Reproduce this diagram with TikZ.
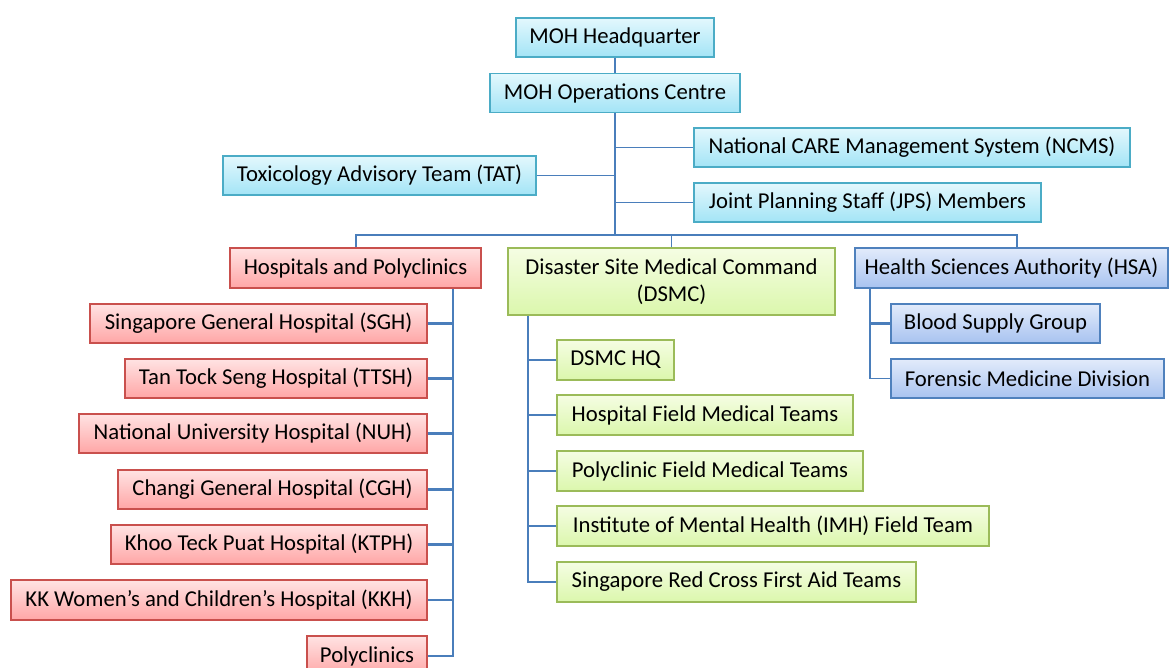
\documentclass[tikz,border=0pt]{standalone}
\usepackage{fontspec}
\setmainfont{Carlito}
\definecolor{lnc}{HTML}{4A7EBB}
\definecolor{cyB}{HTML}{4BACC6}\definecolor{cyT}{HTML}{E3F8FD}\definecolor{cyD}{HTML}{A3E4F6}
\definecolor{rdB}{HTML}{C9504D}\definecolor{rdT}{HTML}{FFE3E3}\definecolor{rdD}{HTML}{FFA6A6}
\definecolor{grB}{HTML}{9BBB59}\definecolor{grT}{HTML}{F5FDE3}\definecolor{grD}{HTML}{DBF7AC}
\definecolor{blB}{HTML}{4F81BD}\definecolor{blT}{HTML}{E2EBFB}\definecolor{blD}{HTML}{A8C3F0}
\begin{document}
\begin{tikzpicture}[x=1pt,y=-1pt,
  box/.style={draw,line width=1.1pt,inner sep=0pt,minimum height=39pt,
    font=\fontsize{22.7}{27}\selectfont,text=black},
  cyanbox/.style={box,draw=cyB,top color=cyT,bottom color=cyD},
  redbox/.style={box,draw=rdB,top color=rdT,bottom color=rdD},
  greenbox/.style={box,draw=grB,top color=grT,bottom color=grD},
  bluebox/.style={box,draw=blB,top color=blT,bottom color=blD},
  conn/.style={draw=lnc,line width=1.4pt},
  stub/.style={draw=lnc,line width=2.2pt}]
\useasboundingbox (0,0) rectangle (1170,668);
% top
\node[cyanbox,minimum width=198pt] (hq) at (615,37.5) {MOH Headquarter};
\node[cyanbox,minimum width=250pt] (oc) at (615,93) {MOH Operations Centre};
\node[cyanbox,minimum width=436pt] (ncms) at (912,147.5) {National CARE Management System (NCMS)};
\node[cyanbox,minimum width=313pt] (tat) at (379.5,175.5) {Toxicology Advisory Team (TAT)};
\node[cyanbox,minimum width=347pt] (jps) at (867.5,202.5) {Joint Planning Staff (JPS) Members};
% level 2
\node[redbox,minimum width=251pt,minimum height=40pt] (hosp) at (355.5,268) {Hospitals and Polyclinics};
\node[greenbox,minimum width=327pt,minimum height=67pt,align=center] (dsmc) at (671.5,281.5) {Disaster Site Medical Command\\(DSMC)};
\node[bluebox,minimum width=313pt,minimum height=40pt] (hsa) at (1011.5,268) {Health Sciences Authority (HSA)};
% hospitals
\node[redbox,minimum width=337pt] (sgh) at (258.5,323.5) {Singapore General Hospital (SGH)};
\node[redbox,minimum width=302pt] (ttsh) at (276,378.5) {Tan Tock Seng Hospital (TTSH)};
\node[redbox,minimum width=348pt] (nuh) at (253,433.5) {National University Hospital (NUH)};
\node[redbox,minimum width=309pt] (cgh) at (272.5,489.5) {Changi General Hospital (CGH)};
\node[redbox,minimum width=316pt] (ktph) at (269,544.5) {Khoo Teck Puat Hospital (KTPH)};
\node[redbox,minimum width=416pt,minimum height=40pt] (kkh) at (219,600) {KK Women’s and Children’s Hospital (KKH)};
\node[redbox,minimum width=120pt,minimum height=40pt] (poly) at (367,656) {Polyclinics};
% dsmc
\node[greenbox,minimum width=117pt,minimum height=40pt] (hq2) at (615.5,360) {DSMC HQ};
\node[greenbox,minimum width=296pt,minimum height=40pt] (hfmt) at (705,415) {Hospital Field Medical Teams};
\node[greenbox,minimum width=306pt,minimum height=40pt] (pfmt) at (710,471) {Polyclinic Field Medical Teams};
\node[greenbox,minimum width=432pt,minimum height=40pt] (imh) at (773,526) {Institute of Mental Health (IMH) Field Team};
\node[greenbox,minimum width=359pt,minimum height=40pt] (src) at (736.5,582) {Singapore Red Cross First Aid Teams};
% hsa
\node[bluebox,minimum width=209pt] (bsg) at (995.5,323.5) {Blood Supply Group};
\node[bluebox,minimum width=273pt] (fmd) at (1027.5,378.5) {Forensic Medicine Division};
% coordinates
\coordinate (bus) at (615,235);
\coordinate (bL) at (356,235);
\coordinate (bR) at (1017,235);
\coordinate (hv) at (453,300);
\coordinate (dv) at (528,300);
\coordinate (sv) at (870,300);
% connectors
\draw[conn] (hq.south) -- (oc.south |- hq.south) -- (oc.north);
\draw[conn] (oc.south) -- (bus);
\draw[conn] (tat.east) -- (tat.east -| bus);
\draw[conn] (ncms.west -| bus) -- (ncms.west);
\draw[conn] (jps.west -| bus) -- (jps.west);
\draw[conn] (bL |- hosp.north) -- (bL) -- (bR) -- (bR |- hsa.north);
\draw[conn] (dsmc.north) -- (dsmc.north |- bus);
% hospitals
\draw[conn] (hv |- hosp.south) -- (hv |- poly.east) -- (poly.east);
\foreach \n in {sgh,ttsh,nuh,cgh,ktph,kkh} \draw[stub] (\n.east) -- (\n.east -| hv);
% dsmc
\draw[conn] (dv |- dsmc.south) -- (dv |- src.west) -- (src.west);
\foreach \n in {hq2,hfmt,pfmt,imh} \draw[stub] (\n.west) -- (\n.west -| dv);
% hsa
\draw[conn] (sv |- hsa.south) -- (sv |- fmd.west) -- (fmd.west);
\draw[stub] (bsg.west) -- (bsg.west -| sv);
\end{tikzpicture}
\end{document}
